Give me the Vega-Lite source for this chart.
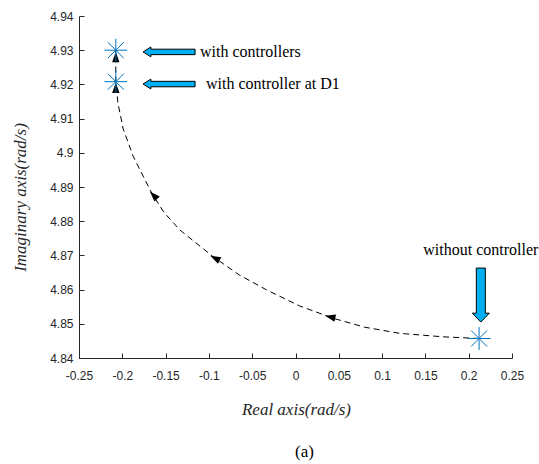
{
  "$schema": "https://vega.github.io/schema/vega-lite/v6.json",
  "width": 433,
  "height": 342,
  "autosize": {"type": "none"},
  "padding": {"left": 79, "top": 16, "right": 27, "bottom": 106},
  "background": "white",
  "config": {"view": {"stroke": null}},
  "title": {"text": "(a)", "orient": "bottom", "anchor": "middle", "offset": 27, "dx": 9, "font": "Liberation Serif", "fontSize": 17, "fontWeight": "normal", "color": "#000000"},
  "datasets": {
    "curve": [
      {"o": 0, "x": 0.212, "y": 4.8457},
      {"o": 1, "x": 0.17, "y": 4.8462},
      {"o": 2, "x": 0.1207, "y": 4.8472},
      {"o": 3, "x": 0.08, "y": 4.849},
      {"o": 4, "x": 0.0437, "y": 4.8516},
      {"o": 5, "x": 0.005, "y": 4.8552},
      {"o": 6, "x": -0.0333, "y": 4.8599},
      {"o": 7, "x": -0.065, "y": 4.8643},
      {"o": 8, "x": -0.095, "y": 4.8696},
      {"o": 9, "x": -0.1334, "y": 4.8774},
      {"o": 10, "x": -0.152, "y": 4.8826},
      {"o": 11, "x": -0.166, "y": 4.8882},
      {"o": 12, "x": -0.1873, "y": 4.8989},
      {"o": 13, "x": -0.199, "y": 4.907},
      {"o": 14, "x": -0.205, "y": 4.9145},
      {"o": 15, "x": -0.2075, "y": 4.9208},
      {"o": 16, "x": -0.2075, "y": 4.93}
    ],
    "heads": [
      {"x": 0.04, "y": 4.852, "a": 283},
      {"x": -0.093, "y": 4.8692, "a": 297},
      {"x": -0.164, "y": 4.8876, "a": 316},
      {"x": -0.2075, "y": 4.919, "a": 0},
      {"x": -0.2075, "y": 4.928, "a": 0}
    ],
    "stars": [
      {"x": -0.2075, "y": 4.93},
      {"x": -0.2075, "y": 4.9208},
      {"x": 0.212, "y": 4.8457}
    ],
    "leftArrows": [
      {"x": -0.146, "y": 4.9295},
      {"x": -0.146, "y": 4.9201}
    ],
    "downArrows": [
      {"x": 0.214, "y": 4.8584}
    ],
    "notes": [
      {"x": -0.1103, "y": 4.9295, "t": "with controllers"},
      {"x": -0.1033, "y": 4.9201, "t": "with controller at D1"}
    ],
    "notes2": [
      {"x": 0.214, "y": 4.8716, "t": "without controller"}
    ]
  },
  "layer": [
    {
      "data": {"name": "curve"},
      "mark": {"type": "line", "color": "#000000", "strokeWidth": 1, "strokeDash": [6, 4]},
      "encoding": {
        "x": {"field": "x", "type": "quantitative",
              "scale": {"domain": [-0.25, 0.25], "nice": false, "zero": false},
              "axis": {"title": "Real axis(rad/s)", "values": [-0.25, -0.2, -0.15, -0.1, -0.05, 0, 0.05, 0.1, 0.15, 0.2, 0.25],
                       "tickCount": 11,
                       "labelExpr": "toString(round(datum.value*100)/100)",
                       "labelOverlap": false, "labelFlush": false,
                       "grid": false, "tickSize": -5, "labelPadding": 17, "domainColor": "#262626", "tickColor": "#262626",
                       "labelColor": "#262626", "labelFont": "Liberation Sans", "labelFontSize": 12,
                       "titleFont": "Liberation Serif", "titleFontStyle": "italic", "titleFontWeight": "normal", "titleFontSize": 17,
                       "titleColor": "#262626", "titleX": 217, "titleY": 51, "titleBaseline": "middle", "titleAlign": "center"}},
        "y": {"field": "y", "type": "quantitative",
              "scale": {"domain": [4.84, 4.94], "nice": false, "zero": false},
              "axis": {"title": "Imaginary axis(rad/s)", "values": [4.84, 4.85, 4.86, 4.87, 4.88, 4.89, 4.9, 4.91, 4.92, 4.93, 4.94],
                       "tickCount": 11,
                       "labelExpr": "toString(round(datum.value*100)/100)",
                       "labelOverlap": false, "labelFlush": false,
                       "grid": false, "tickSize": -5, "labelPadding": 11, "domainColor": "#262626", "tickColor": "#262626",
                       "labelColor": "#262626", "labelFont": "Liberation Sans", "labelFontSize": 12,
                       "titleFont": "Liberation Serif", "titleFontStyle": "italic", "titleFontWeight": "normal", "titleFontSize": 17,
                       "titleColor": "#262626", "titleX": -59, "titleY": 181, "titleBaseline": "middle", "titleAlign": "center", "titleAngle": -90}},
        "order": {"field": "o", "type": "quantitative"}
      }
    },
    {
      "data": {"name": "heads"},
      "mark": {"type": "point", "shape": "M0,-1L0.7,1L-0.7,1Z", "filled": true, "color": "#000000", "opacity": 1, "size": 110},
      "encoding": {
        "x": {"field": "x", "type": "quantitative"},
        "y": {"field": "y", "type": "quantitative"},
        "angle": {"field": "a", "type": "quantitative", "scale": null}
      }
    },
    {
      "data": {"name": "stars"},
      "mark": {"type": "point", "shape": "M-1,0L1,0M0,-1L0,1M-0.7,-0.7L0.7,0.7M-0.7,0.7L0.7,-0.7", "filled": false, "color": "#0072BD", "strokeWidth": 1, "opacity": 1, "size": 520},
      "encoding": {
        "x": {"field": "x", "type": "quantitative"},
        "y": {"field": "y", "type": "quantitative"}
      }
    },
    {
      "data": {"name": "leftArrows"},
      "mark": {"type": "point", "shape": "M-1,0L-0.7,-0.19L-0.7,-0.105L1,-0.105L1,0.105L-0.7,0.105L-0.7,0.19Z", "filled": true, "fill": "#00B0F0", "stroke": "#000000", "strokeWidth": 1, "opacity": 1, "fillOpacity": 1, "size": 2704},
      "encoding": {
        "x": {"field": "x", "type": "quantitative"},
        "y": {"field": "y", "type": "quantitative"}
      }
    },
    {
      "data": {"name": "downArrows"},
      "mark": {"type": "point", "shape": "M0,1L-0.315,0.67L-0.167,0.67L-0.167,-1L0.167,-1L0.167,0.67L0.315,0.67Z", "filled": true, "fill": "#00B0F0", "stroke": "#000000", "strokeWidth": 1, "opacity": 1, "fillOpacity": 1, "size": 2916},
      "encoding": {
        "x": {"field": "x", "type": "quantitative"},
        "y": {"field": "y", "type": "quantitative"}
      }
    },
    {
      "data": {"name": "notes"},
      "mark": {"type": "text", "align": "left", "baseline": "middle", "font": "Liberation Serif", "fontSize": 16, "color": "#000000"},
      "encoding": {
        "x": {"field": "x", "type": "quantitative"},
        "y": {"field": "y", "type": "quantitative"},
        "text": {"field": "t"}
      }
    },
    {
      "data": {"name": "notes2"},
      "mark": {"type": "text", "align": "center", "baseline": "middle", "font": "Liberation Serif", "fontSize": 16, "color": "#000000"},
      "encoding": {
        "x": {"field": "x", "type": "quantitative"},
        "y": {"field": "y", "type": "quantitative"},
        "text": {"field": "t"}
      }
    }
  ]
}
